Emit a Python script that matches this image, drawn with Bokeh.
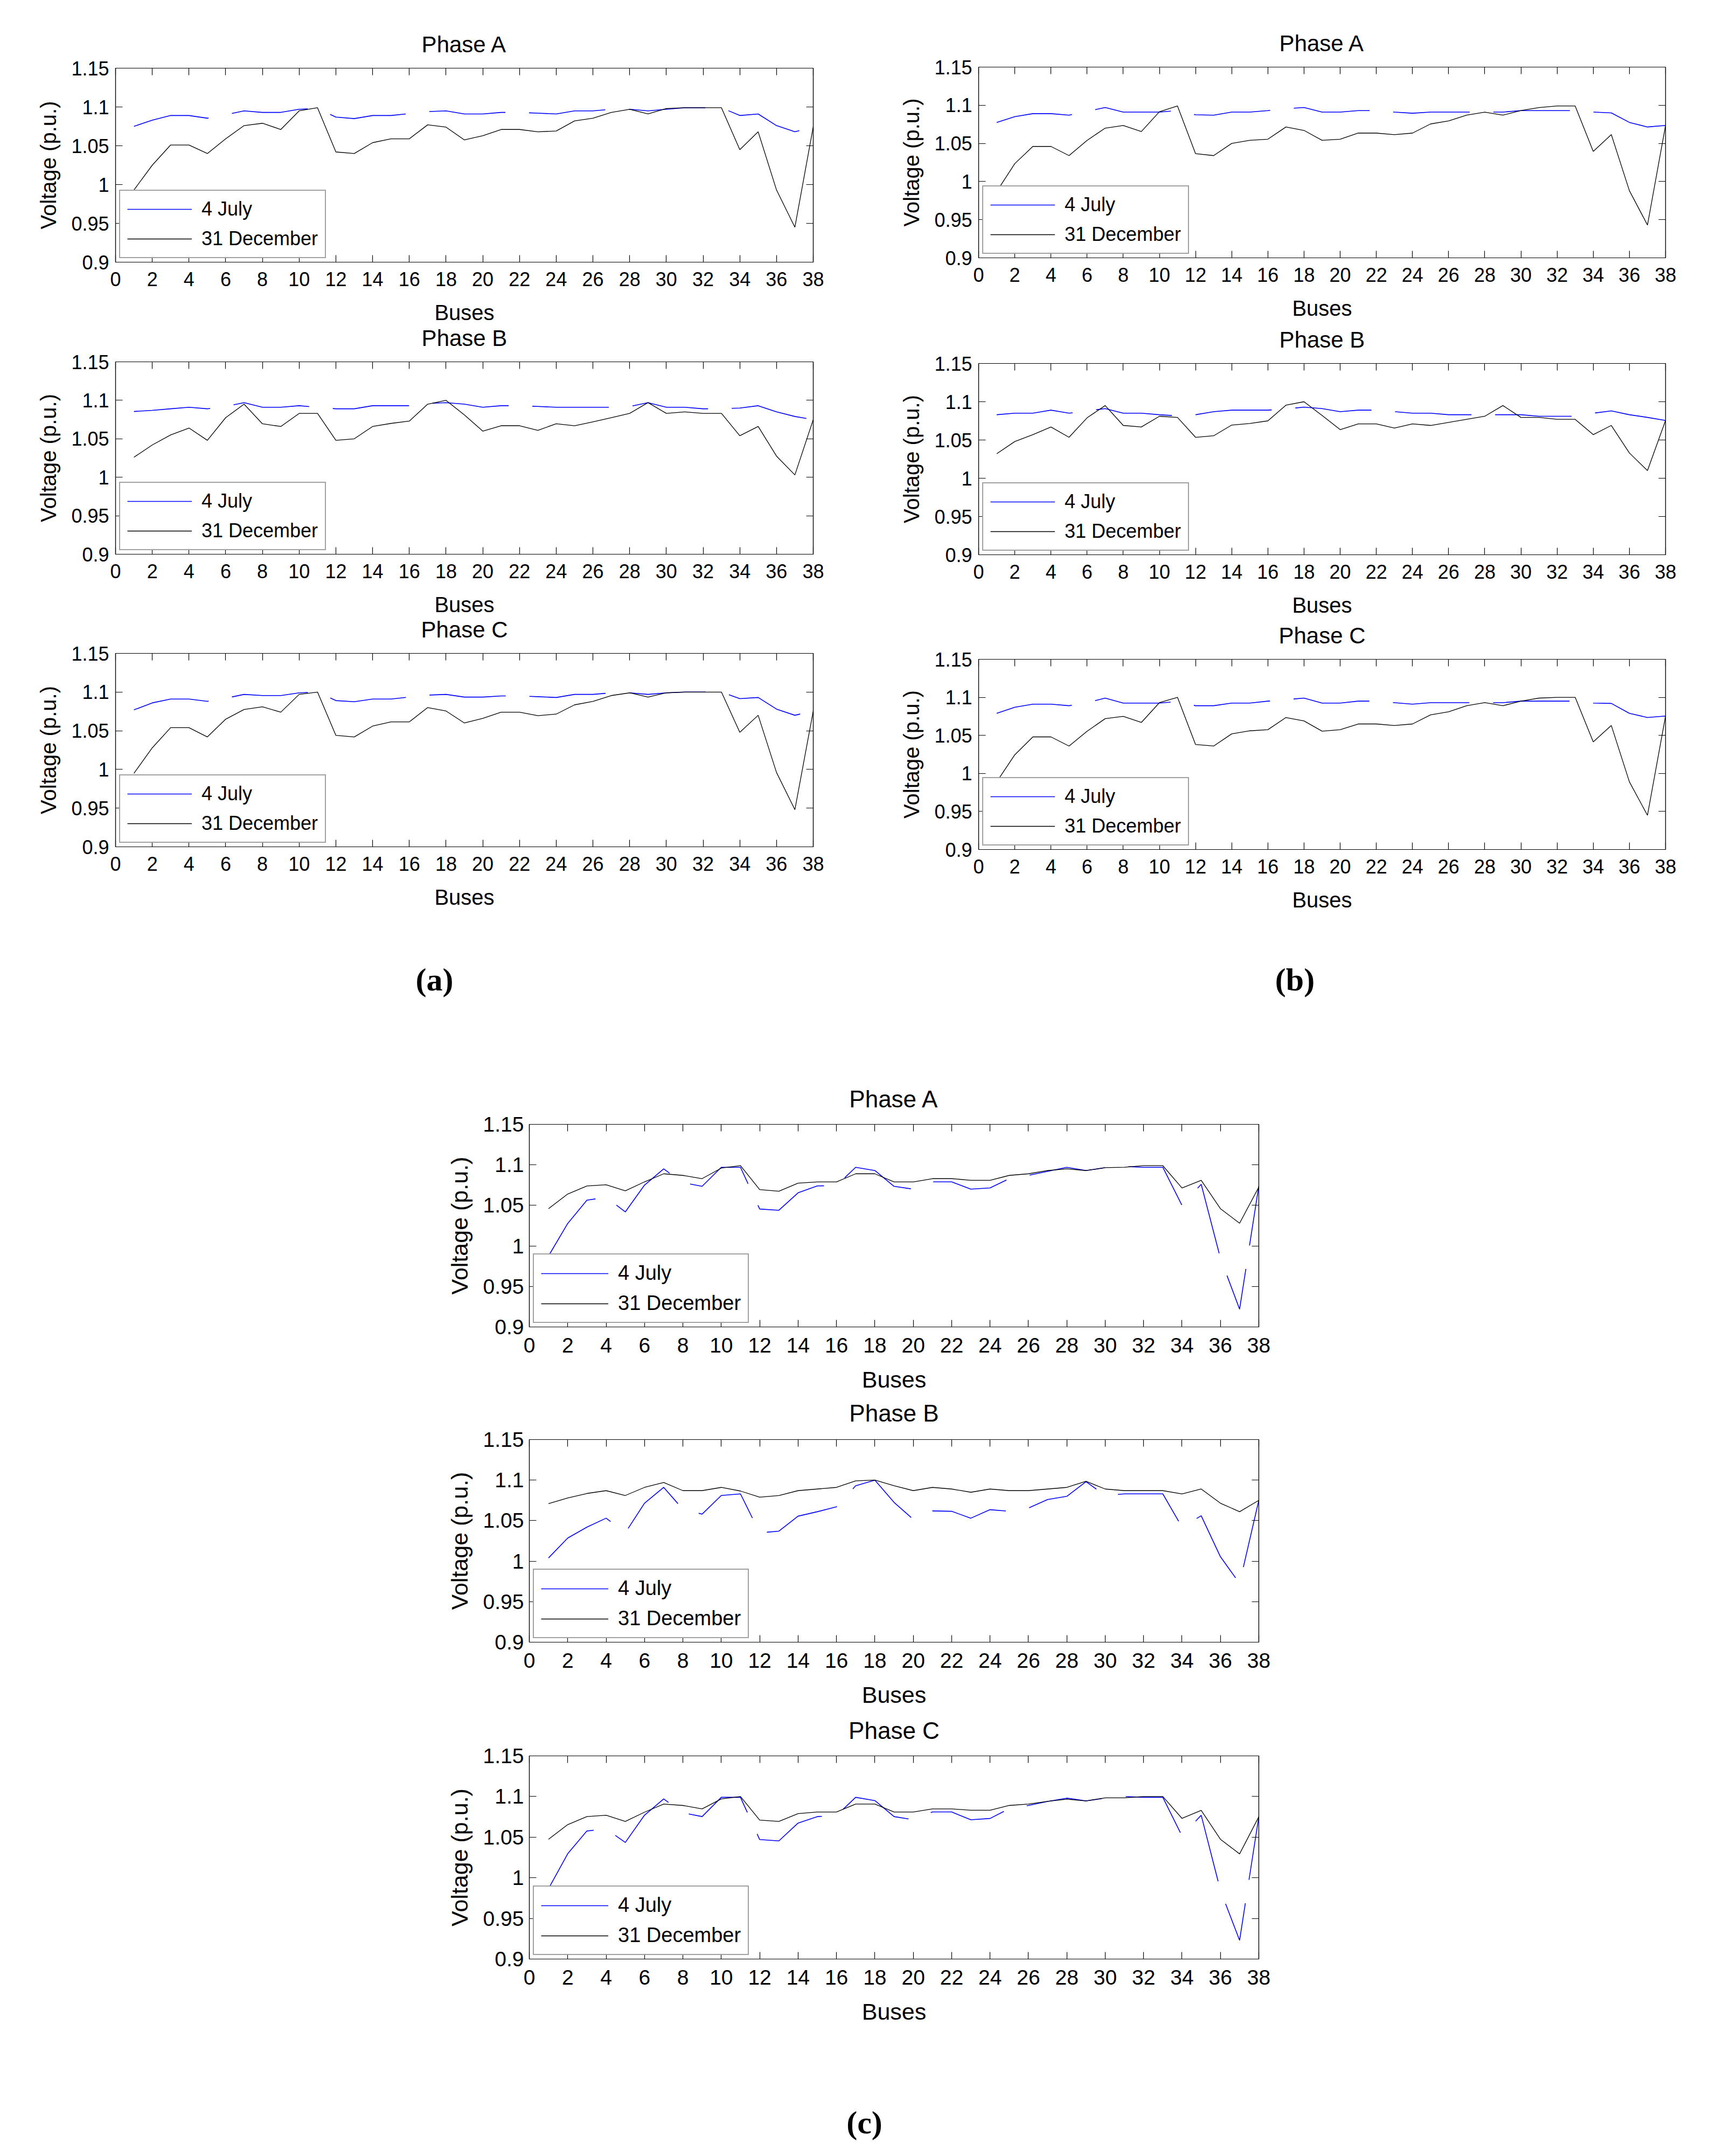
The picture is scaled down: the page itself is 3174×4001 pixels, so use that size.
from bokeh.plotting import figure
from bokeh.models import (Range1d, FixedTicker, LinearAxis, CustomJSTickFormatter,
                          Legend, LegendItem, Spacer)
from bokeh.layouts import column, row
from bokeh.embed import file_html
from bokeh.resources import INLINE
from bokeh.core.properties import value

# ---------------- data ----------------
buses = list(range(1, 39))
x_ticks = list(range(0, 39, 2))
y_ticks = [0.9, 0.95, 1.0, 1.05, 1.1, 1.15]
series_labels = ["4 July", "31 December"]
phase_titles = ["Phase A", "Phase B", "Phase C"]
panel_tags = ["(a)", "(b)", "(c)"]

a_A_july = [1.075, 1.083, 1.089, 1.089, 1.0855, 1.090, 1.095, 1.093, 1.093, 1.097, 1.098, 1.087, 1.085,
            1.089, 1.089, 1.0915, 1.094, 1.095, 1.091, 1.091, 1.093, 1.093, 1.092, 1.091, 1.095, 1.095,
            1.097, 1.097, 1.095, 1.097, 1.099, 1.099, 1.099, 1.089, 1.091, 1.076, 1.068, 1.074]
a_A_dec = [0.993, 1.025, 1.051, 1.051, 1.040, 1.059, 1.076, 1.079, 1.071, 1.095, 1.099, 1.042, 1.040,
           1.054, 1.059, 1.059, 1.077, 1.074, 1.0575, 1.063, 1.071, 1.071, 1.068, 1.069, 1.082, 1.0855,
           1.093, 1.097, 1.091, 1.098, 1.099, 1.099, 1.099, 1.045, 1.068, 0.993, 0.945, 1.0745]

a_B_july = [1.0855, 1.087, 1.089, 1.091, 1.089, 1.092, 1.097, 1.091, 1.091, 1.093, 1.091, 1.089, 1.089,
            1.093, 1.093, 1.093, 1.096, 1.097, 1.095, 1.091, 1.093, 1.093, 1.092, 1.091, 1.091, 1.091,
            1.091, 1.092, 1.097, 1.091, 1.091, 1.089, 1.089, 1.090, 1.093, 1.085, 1.079, 1.075]
a_B_dec = [1.026, 1.042, 1.055, 1.064, 1.048, 1.0775, 1.095, 1.0695, 1.066, 1.083, 1.083, 1.048, 1.050,
           1.066, 1.070, 1.073, 1.095, 1.100, 1.081, 1.060, 1.067, 1.067, 1.061, 1.0695, 1.067, 1.072,
           1.0775, 1.083, 1.097, 1.083, 1.085, 1.083, 1.083, 1.054, 1.066, 1.0275, 1.003, 1.075]

a_C_july = [1.077, 1.086, 1.091, 1.091, 1.088, 1.092, 1.097, 1.0955, 1.0955, 1.099, 1.100, 1.089, 1.0875,
            1.091, 1.091, 1.0935, 1.096, 1.097, 1.0935, 1.0935, 1.095, 1.095, 1.094, 1.093, 1.097, 1.097,
            1.099, 1.099, 1.097, 1.099, 1.100, 1.100, 1.100, 1.0915, 1.093, 1.078, 1.070, 1.0755]
a_C_dec = [0.995, 1.028, 1.054, 1.054, 1.042, 1.065, 1.0775, 1.081, 1.074, 1.097, 1.100, 1.044, 1.042,
           1.056, 1.0615, 1.0615, 1.080, 1.0755, 1.060, 1.066, 1.074, 1.074, 1.0695, 1.0715, 1.0835, 1.088,
           1.0955, 1.099, 1.0935, 1.099, 1.100, 1.100, 1.100, 1.048, 1.070, 0.996, 0.948, 1.0755]

b_A_july = [1.0775, 1.085, 1.089, 1.089, 1.087, 1.092, 1.097, 1.091, 1.091, 1.091, 1.093, 1.0875, 1.087,
            1.091, 1.091, 1.093, 1.0955, 1.097, 1.091, 1.091, 1.093, 1.093, 1.091, 1.0895, 1.091, 1.091,
            1.091, 1.091, 1.091, 1.093, 1.093, 1.093, 1.093, 1.091, 1.090, 1.0775, 1.0715, 1.0735]
b_A_dec = [0.987, 1.0235, 1.046, 1.046, 1.034, 1.054, 1.070, 1.0735, 1.0655, 1.0915, 1.099, 1.0365, 1.034,
           1.050, 1.054, 1.0555, 1.0715, 1.067, 1.054, 1.0555, 1.0635, 1.0635, 1.0615, 1.0635, 1.0755, 1.0795,
           1.087, 1.091, 1.087, 1.093, 1.097, 1.099, 1.099, 1.0395, 1.0615, 0.988, 0.943, 1.0735]

b_B_july = [1.083, 1.085, 1.085, 1.089, 1.085, 1.088, 1.091, 1.085, 1.085, 1.083, 1.0815, 1.083, 1.087,
            1.089, 1.089, 1.089, 1.0905, 1.093, 1.091, 1.087, 1.089, 1.089, 1.087, 1.085, 1.085, 1.083,
            1.083, 1.083, 1.083, 1.083, 1.081, 1.081, 1.081, 1.085, 1.088, 1.083, 1.0795, 1.0755]
b_B_dec = [1.032, 1.048, 1.057, 1.067, 1.0535, 1.079, 1.095, 1.069, 1.067, 1.081, 1.0795, 1.0535, 1.0555,
           1.0695, 1.0715, 1.075, 1.0955, 1.100, 1.082, 1.0635, 1.071, 1.071, 1.0655, 1.071, 1.069, 1.073,
           1.077, 1.081, 1.095, 1.0795, 1.0795, 1.077, 1.077, 1.057, 1.069, 1.033, 1.010, 1.0755]

b_C_july = [1.079, 1.087, 1.091, 1.091, 1.089, 1.093, 1.099, 1.0925, 1.0925, 1.0925, 1.0945, 1.089, 1.089,
            1.0925, 1.0925, 1.095, 1.097, 1.099, 1.0925, 1.0925, 1.095, 1.095, 1.093, 1.091, 1.093, 1.093,
            1.093, 1.093, 1.093, 1.095, 1.095, 1.095, 1.095, 1.0925, 1.092, 1.079, 1.0735, 1.0755]
b_C_dec = [0.989, 1.0245, 1.048, 1.048, 1.036, 1.0555, 1.072, 1.075, 1.067, 1.093, 1.100, 1.038, 1.036,
           1.052, 1.056, 1.0575, 1.0735, 1.069, 1.0555, 1.0575, 1.065, 1.065, 1.063, 1.065, 1.077, 1.081,
           1.089, 1.093, 1.089, 1.095, 1.099, 1.100, 1.100, 1.0415, 1.063, 0.989, 0.945, 1.0755]

c_A_july = [0.9876, 1.0277, 1.0564, 1.060, 1.042, 1.075, 1.095, 1.078, 1.0735, 1.097, 1.097, 1.0455, 1.044,
            1.0655, 1.074, 1.0745, 1.097, 1.093, 1.0735, 1.070, 1.079, 1.079, 1.070, 1.0715, 1.083, 1.087,
            1.092, 1.097, 1.093, 1.0965, 1.098, 1.097, 1.097, 1.050, 1.076, 0.985, 0.922, 1.074]
c_A_dec = [1.046, 1.064, 1.074, 1.0755, 1.068, 1.079, 1.089, 1.087, 1.083, 1.096, 1.099, 1.0695, 1.0675,
           1.0775, 1.079, 1.079, 1.089, 1.089, 1.079, 1.079, 1.083, 1.083, 1.081, 1.081, 1.087, 1.089,
           1.093, 1.095, 1.093, 1.0965, 1.097, 1.099, 1.099, 1.0715, 1.081, 1.046, 1.028, 1.0725]

c_B_july = [1.004, 1.0285, 1.042, 1.053, 1.035, 1.0715, 1.091, 1.064, 1.058, 1.081, 1.083, 1.035, 1.037,
            1.0555, 1.061, 1.067, 1.093, 1.100, 1.0725, 1.0515, 1.062, 1.0615, 1.053, 1.0635, 1.0615, 1.0655,
            1.076, 1.080, 1.098, 1.081, 1.083, 1.083, 1.083, 1.042, 1.056, 1.0055, 0.9725, 1.075]
c_B_dec = [1.071, 1.078, 1.0835, 1.087, 1.081, 1.091, 1.097, 1.087, 1.087, 1.091, 1.0865, 1.079, 1.081,
           1.087, 1.089, 1.091, 1.099, 1.100, 1.093, 1.087, 1.091, 1.089, 1.085, 1.089, 1.087, 1.087,
           1.089, 1.091, 1.0985, 1.089, 1.087, 1.087, 1.087, 1.083, 1.089, 1.0715, 1.061, 1.075]

c_C_july = [0.9866, 1.0296, 1.0576, 1.060, 1.0435, 1.077, 1.097, 1.080, 1.0753, 1.099, 1.099, 1.047, 1.0454,
            1.0673, 1.0753, 1.0765, 1.099, 1.095, 1.0753, 1.0714, 1.081, 1.081, 1.0714, 1.073, 1.085, 1.089,
            1.094, 1.098, 1.0946, 1.098, 1.100, 1.099, 1.099, 1.0515, 1.077, 0.9846, 0.9231, 1.075]
c_C_dec = [1.0474, 1.0654, 1.0753, 1.077, 1.0693, 1.0807, 1.0907, 1.089, 1.0848, 1.097, 1.100, 1.071, 1.0693,
           1.079, 1.0809, 1.0809, 1.0907, 1.0907, 1.0809, 1.0809, 1.0848, 1.0848, 1.0831, 1.0831, 1.089, 1.0907,
           1.0941, 1.0967, 1.0946, 1.0984, 1.0984, 1.100, 1.100, 1.0731, 1.0829, 1.0474, 1.0294, 1.0751]

# ---------------- styling ----------------
FONT = "Liberation Sans"
SERIF = "Liberation Serif"
L_BORDER, R_BORDER, T_BORDER = 160, 40, 20

# font/spacing sets: panels (a),(b) and the slightly larger panel (c)
STYLE_AB = dict(tick=36, label=40, title=42, legend=36, glyph_w=120, leg_standoff=18,
                x_std=18, xlab_std=24, y_std=12, ylab_std=17)
STYLE_C = dict(tick=39, label=43, title=44, legend=38, glyph_w=125, leg_standoff=18,
               x_std=20, xlab_std=23, y_std=10, ylab_std=17)

y_fmt_code = "return tick.toFixed(2).replace(/0+$/, '').replace(/\\.$/, '');"


def style_axis(ax, ticks, label_px=None, tick_len=13):
    ax.ticker = FixedTicker(ticks=ticks)
    ax.major_tick_in = tick_len
    ax.major_tick_out = 0
    ax.minor_tick_in = 0
    ax.minor_tick_out = 0
    ax.axis_line_color = "black"
    ax.axis_line_width = 1.2
    ax.major_tick_line_color = "black"
    ax.major_tick_line_width = 1.2
    if label_px:
        ax.major_label_text_font = FONT
        ax.major_label_text_font_size = f"{label_px}px"
        ax.major_label_text_color = "black"
    else:
        ax.formatter = CustomJSTickFormatter(code="return '';")
        ax.major_label_text_font_size = "0px"
        ax.major_label_standoff = 0


def panel(july, dec, frame_w, frame_h, bottom, st):
    p = figure(width=L_BORDER + frame_w + R_BORDER, height=T_BORDER + frame_h + bottom,
               x_range=Range1d(0, 38), y_range=Range1d(0.9, 1.15),
               output_backend="svg", toolbar_location=None,
               min_border_left=L_BORDER, min_border_right=R_BORDER,
               min_border_top=T_BORDER, min_border_bottom=bottom,
               x_axis_label="Buses", y_axis_label="Voltage (p.u.)",
               background_fill_color="white", border_fill_color="white")
    p.xgrid.visible = False
    p.ygrid.visible = False
    p.outline_line_color = "black"
    p.outline_line_width = 1.2
    p.outline_line_alpha = 1

    xa = p.xaxis[0]
    style_axis(xa, x_ticks, st["tick"])
    xa.major_label_standoff = st["x_std"]
    xa.axis_label_standoff = st["xlab_std"]
    xa.axis_label_text_font = FONT
    xa.axis_label_text_font_size = f"{st['label']}px"
    xa.axis_label_text_font_style = "normal"
    xa.axis_label_text_color = "black"

    ya = p.yaxis[0]
    style_axis(ya, y_ticks, st["tick"])
    ya.formatter = CustomJSTickFormatter(code=y_fmt_code)
    ya.major_label_standoff = st["y_std"]
    ya.axis_label_standoff = st["ylab_std"]
    ya.axis_label_text_font = FONT
    ya.axis_label_text_font_size = f"{st['label']}px"
    ya.axis_label_text_font_style = "normal"
    ya.axis_label_text_color = "black"

    top_ax = LinearAxis()
    style_axis(top_ax, x_ticks)
    p.add_layout(top_ax, "above")
    right_ax = LinearAxis()
    style_axis(right_ax, y_ticks)
    p.add_layout(right_ax, "right")

    r_j = p.line(buses, july, line_color="blue", line_width=1.6, line_dash="142 44")
    r_d = p.line(buses, dec, line_color="black", line_width=1.3)

    leg = Legend(items=[LegendItem(label=series_labels[0], renderers=[r_j]),
                        LegendItem(label=series_labels[1], renderers=[r_d])],
                 location="bottom_left")
    leg.label_text_font = FONT
    leg.label_text_font_size = f"{st['legend']}px"
    leg.label_text_color = "black"
    leg.glyph_width = st["glyph_w"]
    leg.glyph_height = 38
    leg.label_height = 38
    leg.label_standoff = st["leg_standoff"]
    leg.spacing = 13
    leg.padding = 13
    leg.margin = 7
    leg.border_line_color = "#444444"
    leg.border_line_width = 2
    leg.background_fill_color = "white"
    leg.background_fill_alpha = 1
    p.add_layout(leg)
    return p


def title_strip(txt, frame_w, height, y_pos, st):
    """A thin strip above a panel that carries its title, centred over the axes."""
    p = figure(width=L_BORDER + frame_w + R_BORDER, height=height,
               x_range=Range1d(0, 38), y_range=Range1d(0, height),
               output_backend="svg", toolbar_location=None,
               min_border_left=L_BORDER, min_border_right=R_BORDER,
               min_border_top=0, min_border_bottom=0)
    p.xaxis.visible = False
    p.yaxis.visible = False
    p.xgrid.visible = False
    p.ygrid.visible = False
    p.outline_line_color = None
    p.text(x=[19], y=[y_pos], text=[txt], text_font=value(FONT),
           text_font_size=f"{st['title']}px", text_align="center", text_baseline="alphabetic",
           text_color="black")
    return p


def tag(txt):
    p = figure(width=200, height=100, x_range=Range1d(0, 1), y_range=Range1d(0, 1),
               output_backend="svg", toolbar_location=None, min_border=0)
    p.xaxis.visible = False
    p.yaxis.visible = False
    p.xgrid.visible = False
    p.ygrid.visible = False
    p.outline_line_color = None
    p.text(x=[0.5], y=[0.5], text=[txt], text_font=value(SERIF), text_font_style="bold",
           text_font_size="60px", text_align="center", text_baseline="middle", text_color="black")
    return p


S = STYLE_AB
# column (a)   frames: 126-487, 671-1032, 1212-1572
col_a = column(
    title_strip(phase_titles[0], 1295, 69, 24, S), panel(a_A_july, a_A_dec, 1295, 361, 117, S),
    title_strip(phase_titles[1], 1295, 47, 24, S), panel(a_B_july, a_B_dec, 1295, 361, 114, S),
    title_strip(phase_titles[2], 1295, 46, 24, S), panel(a_C_july, a_C_dec, 1295, 360, 117, S))
# column (b)   frames: 124-479, 674-1030, 1223-1577
col_b = column(
    title_strip(phase_titles[0], 1275, 67, 24, S), panel(b_A_july, b_A_dec, 1275, 355, 117, S),
    title_strip(phase_titles[1], 1275, 58, 24, S), panel(b_B_july, b_B_dec, 1275, 356, 117, S),
    title_strip(phase_titles[2], 1275, 56, 24, S), panel(b_C_july, b_C_dec, 1275, 354, 117, S))
S = STYLE_C
# column (c)   frames: 2086-2462, 2671-3047, 3258-3635
col_c = column(
    title_strip(phase_titles[0], 1354, 67, 27, S), panel(c_A_july, c_A_dec, 1354, 376, 126, S),
    title_strip(phase_titles[1], 1354, 63, 29, S), panel(c_B_july, c_B_dec, 1354, 376, 126, S),
    title_strip(phase_titles[2], 1354, 65, 27, S), panel(c_C_july, c_C_dec, 1354, 377, 126, S))

row_ab = row(Spacer(width=54, height=10), col_a, Spacer(width=107, height=10), col_b)
labels_ab = row(Spacer(width=706, height=100), tag(panel_tags[0]),
                Spacer(width=1397, height=100), tag(panel_tags[1]))
row_c = row(Spacer(width=822, height=10), col_c)
label_c = row(Spacer(width=1504, height=100), tag(panel_tags[2]))

page = column(Spacer(width=10, height=37), row_ab, Spacer(width=10, height=73), labels_ab,
              Spacer(width=10, height=132), row_c, Spacer(width=10, height=127), label_c)

open("out.html", "w").write(file_html(page, INLINE))
